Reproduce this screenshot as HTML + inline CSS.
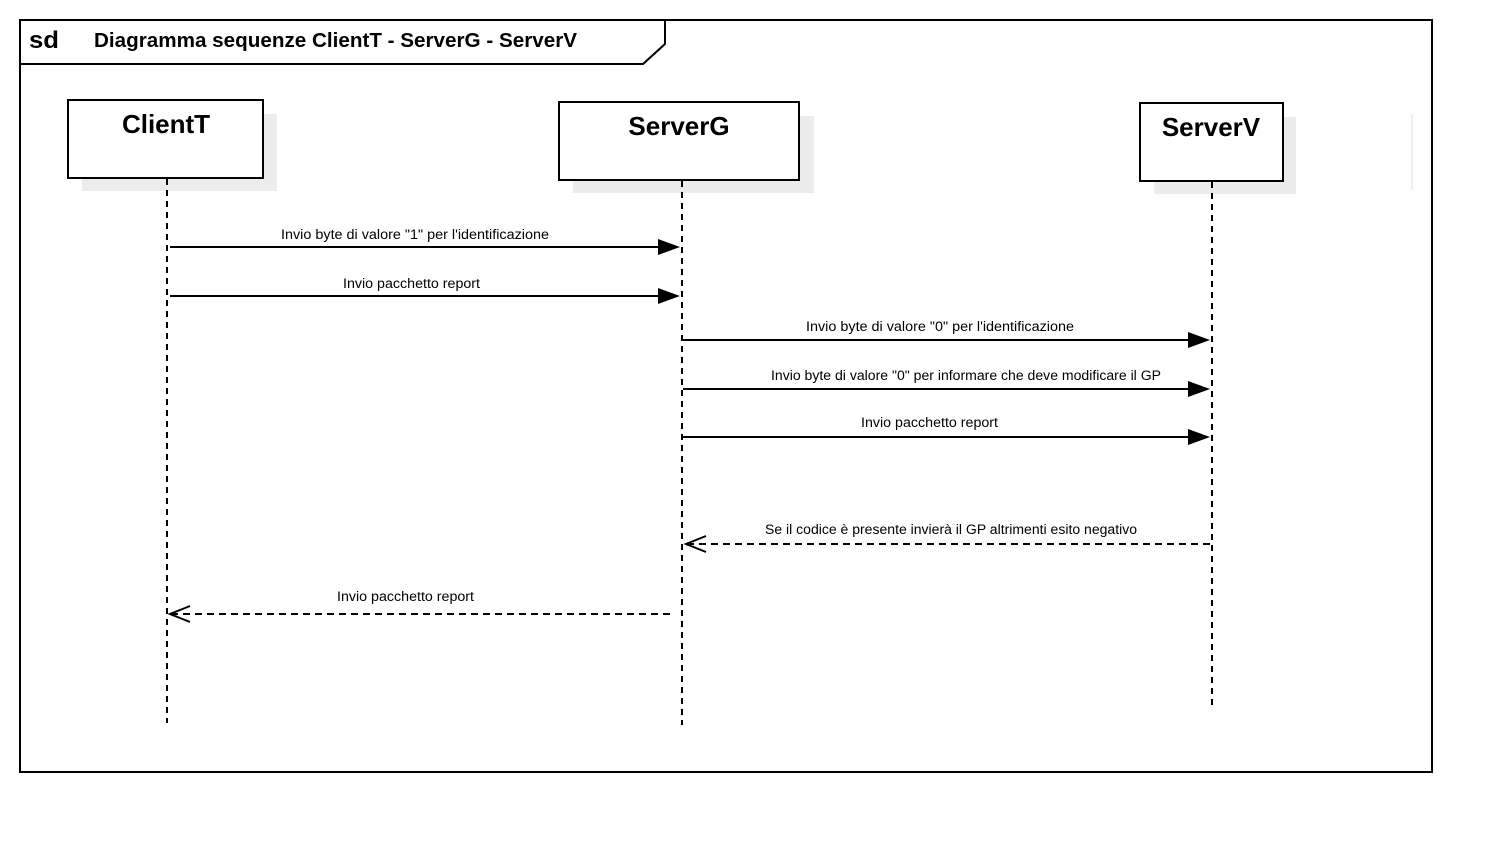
<!DOCTYPE html>
<html><head><meta charset="utf-8"><style>
html,body{margin:0;padding:0;background:#fff;}
svg{display:block;}
text{font-family:"Liberation Sans",sans-serif;}
</style></head><body>
<svg width="1494" height="852" viewBox="0 0 1494 852" xmlns="http://www.w3.org/2000/svg">
<rect x="20" y="20" width="1412" height="752" fill="#fff" stroke="#000" stroke-width="2"/>
<path d="M20,64 L643,64 L665,44 L665,20" fill="none" stroke="#000" stroke-width="2"/>
<text x="29" y="48" font-size="24" font-weight="bold" textLength="30" lengthAdjust="spacingAndGlyphs">sd</text>
<text x="94" y="47" font-size="20" font-weight="bold" textLength="483" lengthAdjust="spacingAndGlyphs">Diagramma sequenze ClientT - ServerG - ServerV</text>
<line x1="1412" y1="114" x2="1412" y2="190" stroke="#eee" stroke-width="2"/>
<rect x="82" y="114" width="195" height="77" fill="#ececec"/>
<rect x="573" y="116" width="241" height="77" fill="#ececec"/>
<rect x="1154" y="117" width="142" height="77" fill="#ececec"/>
<rect x="68" y="100" width="195" height="78" fill="#fff" stroke="#000" stroke-width="2"/>
<rect x="559" y="102" width="240" height="78" fill="#fff" stroke="#000" stroke-width="2"/>
<rect x="1140" y="103" width="143" height="78" fill="#fff" stroke="#000" stroke-width="2"/>
<text x="166" y="133" font-size="26" font-weight="bold" text-anchor="middle">ClientT</text>
<text x="679" y="135" font-size="26" font-weight="bold" text-anchor="middle">ServerG</text>
<text x="1211" y="136" font-size="26" font-weight="bold" text-anchor="middle">ServerV</text>
<g stroke="#000" stroke-width="2" stroke-dasharray="6,5">
<line x1="167" y1="179" x2="167" y2="723"/>
<line x1="682" y1="181" x2="682" y2="725"/>
<line x1="1212" y1="182" x2="1212" y2="705"/>
</g>
<g stroke="#000" stroke-width="2">
<line x1="170" y1="247" x2="660" y2="247"/>
<line x1="170" y1="296" x2="660" y2="296"/>
<line x1="683" y1="340" x2="1190" y2="340"/>
<line x1="683" y1="389" x2="1190" y2="389"/>
<line x1="683" y1="437" x2="1190" y2="437"/>
<line x1="1210" y1="544" x2="688" y2="544" stroke-dasharray="7,5"/>
<line x1="670" y1="614" x2="172" y2="614" stroke-dasharray="7,5"/>
<polyline points="706,536 686,544 706,552" fill="none"/>
<polyline points="190,606 170,614 190,622" fill="none"/>
</g>
<g fill="#000">
<polygon points="658,239 680,247 658,255"/>
<polygon points="658,288 680,296 658,304"/>
<polygon points="1188,332 1210,340 1188,348"/>
<polygon points="1188,381 1210,389 1188,397"/>
<polygon points="1188,429 1210,437 1188,445"/>
</g>
<g font-size="13.5" lengthAdjust="spacingAndGlyphs">
<text x="281" y="239" textLength="268" lengthAdjust="spacingAndGlyphs">Invio byte di valore "1" per l'identificazione</text>
<text x="343" y="288" textLength="137" lengthAdjust="spacingAndGlyphs">Invio pacchetto report</text>
<text x="806" y="331" textLength="268" lengthAdjust="spacingAndGlyphs">Invio byte di valore "0" per l'identificazione</text>
<text x="771" y="380" textLength="390" lengthAdjust="spacingAndGlyphs">Invio byte di valore "0" per informare che deve modificare il GP</text>
<text x="861" y="427" textLength="137" lengthAdjust="spacingAndGlyphs">Invio pacchetto report</text>
<text x="765" y="534" textLength="372" lengthAdjust="spacingAndGlyphs">Se il codice è presente invierà il GP altrimenti esito negativo</text>
<text x="337" y="601" textLength="137" lengthAdjust="spacingAndGlyphs">Invio pacchetto report</text>
</g>
</svg>
</body></html>
